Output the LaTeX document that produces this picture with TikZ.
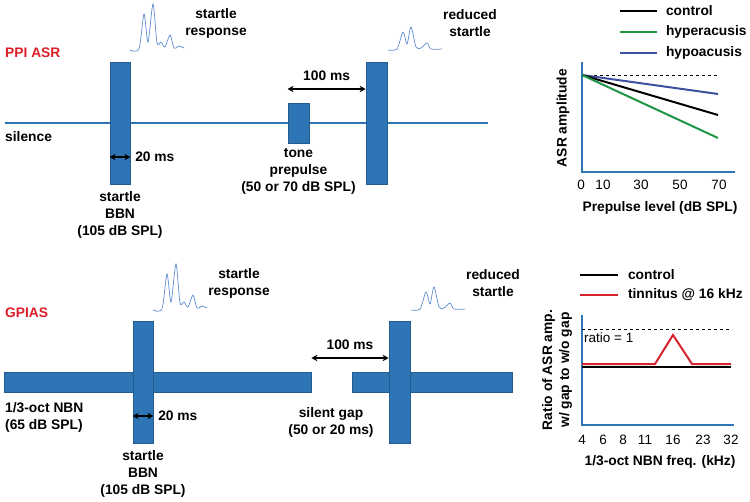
\documentclass[tikz,border=0pt]{standalone}
\usepackage{fontspec}
\setmainfont{Liberation Sans}
\usetikzlibrary{arrows.meta,positioning}
\definecolor{pulseblue}{RGB}{46,117,182}
\definecolor{pulseedge}{RGB}{36,92,146}
\definecolor{wavecol}{RGB}{95,140,205}
\definecolor{hypergreen}{RGB}{30,150,70}
\definecolor{hyponavy}{RGB}{60,80,160}
\definecolor{tinred}{RGB}{215,35,45}
\definecolor{titlered}{RGB}{220,30,40}

\tikzset{
  bigwave/.pic={\draw[wave] plot[smooth,tension=0.45] coordinates {(0,0) (9,-1) (14,-36) (18,-8) (23,-46) (27,-7) (31,-8) (35,-3) (40,-15) (44,-2) (49,-4) (54,-2)};},
  smallwave/.pic={\draw[wave] plot[smooth,tension=0.45] coordinates {(0,0) (9,-1) (15,-18) (19,-6) (23,-23) (28,-3) (33,-2) (39,-7) (43,-1) (54,-1)};}
}

\begin{document}
\begin{tikzpicture}[x=1pt,y=-1pt,>={Stealth[length=6pt,width=6.5pt]},
  every node/.style={font=\bfseries\fontsize{13.8}{17}\selectfont,inner sep=0pt,text=black},
  pulse/.style={draw=pulseedge,fill=pulseblue,line width=0.8pt,minimum width=20pt,minimum height=122pt},
  wave/.style={wavecol,line width=0.7pt},
  dur/.style={<->,line width=1.8pt},
  axis/.style={pulseblue,line width=1.4pt},
  tick/.style={font=\fontsize{13.5}{16}\selectfont},
  ctrl/.style={black,line width=2pt},
  hyper/.style={hypergreen,line width=2pt},
  hypo/.style={hyponavy,line width=2pt},
  tinn/.style={tinred,line width=2pt}]
\useasboundingbox (0,0) rectangle (750,501);

% PPI ASR
\node[anchor=west,text=titlered] (ppi) at (5,53) {PPI ASR};
\coordinate (silL) at (5,123);
\coordinate (silR) at (488,123);
\draw[pulseblue,line width=2pt] (silL) -- (silR);
\node[anchor=west] (sil) at (5,137) {silence};
\node[pulse] (bbnA) at (120,123) {};
\node[pulse,minimum width=21pt,minimum height=40pt] (preA) at (298.5,123) {};
\node[pulse,minimum width=21pt] (bbnB) at (376.5,123) {};
\node[below=7pt of bbnA,align=center] (bbnAlab) {startle\\BBN\\(105 dB SPL)};
\node[below=5pt of preA,align=center] (preAlab) {tone\\prepulse\\(50 or 70 dB SPL)};
\draw[dur] (bbnA.west |- 0,157) -- (bbnA.east |- 0,157) node[right=4pt] (dA) {20 ms};
\draw[dur] (preA.west |- 0,89) -- (bbnB.west |- 0,89) node[midway,above=7pt] (gA) {100 ms};
\pic at (130,50) {bigwave};
\pic at (388,50) {smallwave};
\node[align=center] (respA) at (216,23) {startle\\response};
\node[align=center] (redA) at (470,23) {reduced\\startle};

% GPIAS
\node[anchor=west,text=titlered] (gpias) at (5,313) {GPIAS};
\node[pulse,minimum width=307pt,minimum height=20pt] (nbnL) at (157.5,382) {};
\node[pulse,minimum width=160pt,minimum height=20pt] (nbnR) at (432,382) {};
\node[pulse] (bbnC) at (143,382) {};
\node[pulse,minimum width=21pt] (bbnD) at (399.5,382) {};
\node[anchor=west,align=left] (nbnlab) at (5,417) {1/3-oct NBN\\(65 dB SPL)};
\node[below=7pt of bbnC,align=center] (bbnClab) {startle\\BBN\\(105 dB SPL)};
\node[align=center] (gaplab) at (331,422) {silent gap\\(50 or 20 ms)};
\draw[dur] (bbnC.west |- 0,416) -- (bbnC.east |- 0,416) node[right=4pt] (dC) {20 ms};
\draw[dur] (nbnL.east |- 0,358) -- (bbnD.west |- 0,358) node[midway,above=7pt] (gC) {100 ms};
\pic at (153,310) {bigwave};
\pic at (411,310) {smallwave};
\node[align=center] (respC) at (239,283) {startle\\response};
\node[align=center] (redC) at (493,283) {reduced\\startle};

% ASR amplitude vs prepulse level
\coordinate (oA) at (582,172);
\draw[axis] (582,62) -- (oA) -- (735,172);
\draw[dashed,line width=0.6pt] (582,75) -- (719,75);
\draw[hypo] (582,75) -- (718,94);
\draw[ctrl] (582,75) -- (718,115);
\draw[hyper] (582,75) -- (718,138);
\draw[ctrl] (620,11) -- (657,11) node[right=8pt] {control};
\draw[hyper] (620,32) -- (657,32) node[right=8pt] {hyperacusis};
\draw[hypo] (620,53) -- (657,53) node[right=8pt] {hypoacusis};
\foreach \x/\t in {581/0,603/10,641/30,680/50,719/70}
  \node[tick] at (\x,185) {\t};
\node (xlabA) at (660,208) {Prepulse level (dB SPL)};
\node[rotate=90] (ylabA) at (563,118) {ASR amplitude};

% gap ratio vs NBN frequency
\coordinate (oC) at (582,425);
\draw[axis] (582,315) -- (oC) -- (734,425);
\draw[dashed,line width=0.6pt] (582,329) -- (732,329);
\node[tick,anchor=west] (ratio) at (584,338) {ratio = 1};
\draw[black,line width=1.6pt] (582,367) -- (731,367);
\draw[tinn] (582,364) -- (655,364) -- (673,335) -- (692,364) -- (731,364);
\draw[ctrl] (580,275) -- (618,275) node[right=9pt] {control};
\draw[tinn] (580,295) -- (618,295) node[right=9pt] {tinnitus @ 16 kHz};
\foreach \x/\t in {582/4,603/6,623/8,645/11,673/16,703/23,731/32}
  \node[tick] at (\x,440) {\t};
\node (xlabC) at (660,462) {1/3-oct NBN freq. (kHz)};
\node[rotate=90,align=center] (ylabC) at (557,370) {Ratio of ASR amp.\\w/ gap to w/o gap};
\end{tikzpicture}
\end{document}
